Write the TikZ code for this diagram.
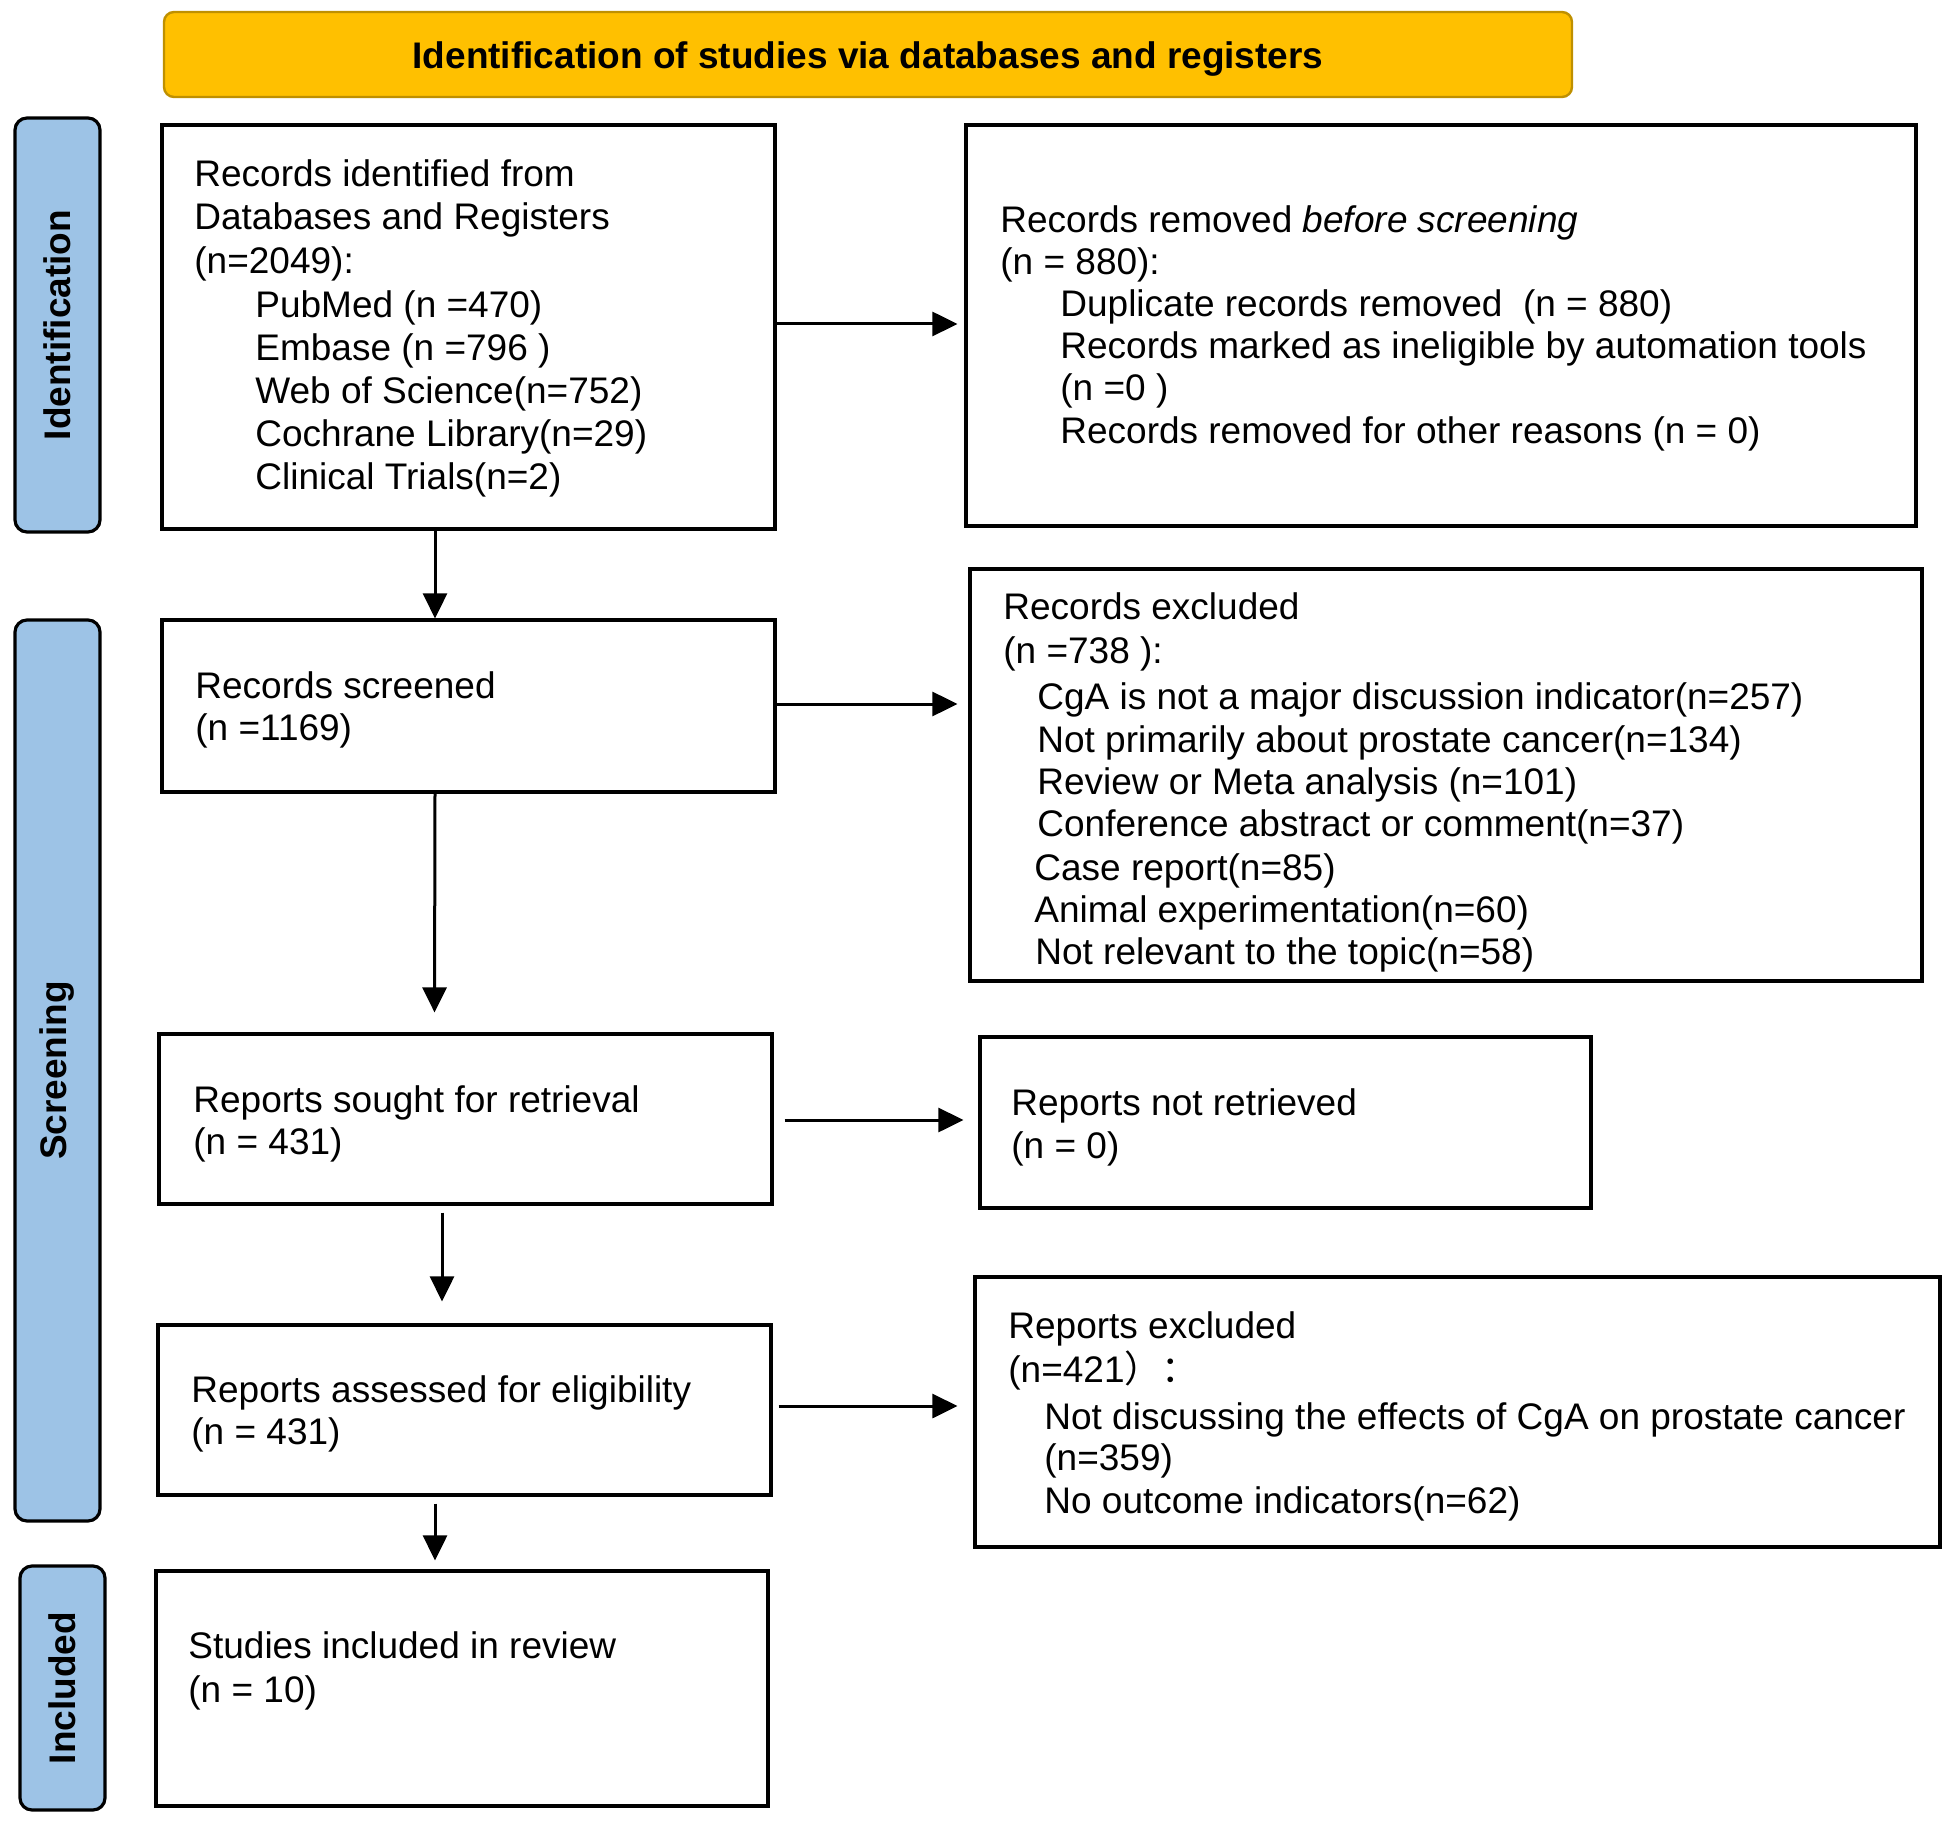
\documentclass[tikz,border=0pt]{standalone}
\usepackage{fontspec}
\setmainfont{Liberation Sans}
\newfontfamily\cjk{Noto Sans CJK SC}
\usetikzlibrary{fit,calc,arrows.meta}
\definecolor{gold}{HTML}{FFC000}
\definecolor{golddark}{HTML}{BF9000}
\definecolor{sideblue}{HTML}{9DC3E6}
\tikzset{
  box/.style={draw=black, line width=1.6pt, fill=white, inner sep=0pt},
  titlebox/.style={draw=golddark, line width=1.2pt, fill=gold, rounded corners=5pt, inner sep=0pt},
  sidebox/.style={draw=black, line width=1.6pt, fill=sideblue, rounded corners=6pt, inner sep=0pt},
  txt/.style={anchor=base west, inner sep=0pt, font=\fontsize{18.5}{21}\selectfont},
  boldtxt/.style={inner sep=0pt, font=\fontsize{18.5}{21}\selectfont\bfseries},
  arr/.style={line width=1.5pt, -{Triangle[length=12.5pt, width=12pt]}},
}
\begin{document}
\begin{tikzpicture}[x=0.5pt, y=-0.5pt]
\useasboundingbox (0,0) rectangle (1953,1823);
% title
\node[titlebox, fit={(164,12) (1572,97)}] (T) {};
\node[boldtxt] (Tt) at ($(T.center)+(0,5)$) {Identification of studies via databases and registers};
% side labels
\node[sidebox, fit={(15,118) (100,532)}] (S1) {};
\node[boldtxt, rotate=90] (S1t) at (S1.center) {Identification};
\node[sidebox, fit={(15,620) (100,1521)}] (S2) {};
\node[boldtxt, rotate=90] (S2t) at (S2.center) {Screening};
\node[sidebox, fit={(20,1566) (105,1810)}] (S3) {};
\node[boldtxt, rotate=90] (S3t) at (S3.center) {Included};
% boxes
\node[box, fit={(162,125) (775,529)}] (A) {};
\node[box, fit={(966,125) (1916,526)}] (B) {};
\node[box, fit={(162,620) (775,792)}] (C) {};
\node[box, fit={(970,569) (1922,981)}] (D) {};
\node[box, fit={(159,1034) (772,1204)}] (E) {};
\node[box, fit={(980,1037) (1591,1208)}] (F) {};
\node[box, fit={(158,1325) (771,1495)}] (G) {};
\node[box, fit={(975,1277) (1940,1547)}] (H) {};
\node[box, fit={(156,1571) (768,1806)}] (I) {};
% box A text
\node[txt] (a1) at (194,187) {Records identified from};
\node[txt] (a2) at (194,230) {Databases and Registers};
\node[txt] (a3) at (194,274) {(n=2049):};
\node[txt] (a4) at (255,318) {PubMed (n =470)};
\node[txt] (a5) at (255,361) {Embase (n =796 )};
\node[txt] (a6) at (255,404) {Web of Science(n=752)};
\node[txt] (a7) at (255,447) {Cochrane Library(n=29)};
\node[txt] (a8) at (255,490) {Clinical Trials(n=2)};
% box B text
\node[txt] (b1) at (1000,233) {Records removed \textit{before screening}};
\node[txt] (b2) at (1000,275) {(n = 880):};
\node[txt] (b3) at (1060,317) {Duplicate records removed\ \ (n = 880)};
\node[txt] (b4) at (1060,359) {Records marked as ineligible by automation tools};
\node[txt] (b5) at (1060,401) {(n =0 )};
\node[txt] (b6) at (1060,444) {Records removed for other reasons (n = 0)};
% box C text
\node[txt] (c1) at (195,698) {Records screened};
\node[txt] (c2) at (195,740) {(n =1169)};
% box D text
\node[txt] (d1) at (1003,620) {Records excluded};
\node[txt] (d2) at (1003,663) {(n =738 ):};
\node[txt] (d3) at (1037,709) {CgA is not a major discussion indicator(n=257)};
\node[txt] (d4) at (1037,752) {Not primarily about prostate cancer(n=134)};
\node[txt] (d5) at (1037,794) {Review or Meta analysis (n=101)};
\node[txt] (d6) at (1037,836) {Conference abstract or comment(n=37)};
\node[txt] (d7) at (1034,880) {Case report(n=85)};
\node[txt] (d8) at (1034,922) {Animal experimentation(n=60)};
\node[txt] (d9) at (1035,964) {Not relevant to the topic(n=58)};
% box E text
\node[txt] (e1) at (193,1112) {Reports sought for retrieval};
\node[txt] (e2) at (193,1154) {(n = 431)};
% box F text
\node[txt] (f1) at (1011,1115) {Reports not retrieved};
\node[txt] (f2) at (1011,1158) {(n = 0)};
% box G text
\node[txt] (g1) at (191,1402) {Reports assessed for eligibility};
\node[txt] (g2) at (191,1444) {(n = 431)};
% box H text
\node[txt] (h1) at (1008,1338) {Reports excluded};
\node[txt] (h2) at (1008,1382) {(n=421{\cjk ）：}};
\node[txt] (h3) at (1044,1429) {Not discussing the effects of CgA on prostate cancer};
\node[txt] (h4) at (1044,1470) {(n=359)};
\node[txt] (h5) at (1044,1513) {No outcome indicators(n=62)};
% box I text
\node[txt] (i1) at (188,1658) {Studies included in review};
\node[txt] (i2) at (188,1702) {(n = 10)};
% arrows
\draw[arr] ($(A.south)+(-33.5,0)$) -- ($(C.north)+(-33.5,0)$);
\draw[arr] ($(C.south)+(-33.5,0)$) -- ($(E.north)+(-31,-20)$);
\draw[arr] ($(E.south)+(-23.5,7)$) -- ($(G.north)+(-22.5,-22)$);
\draw[arr] ($(G.south)+(-29.5,7)$) -- ($(I.north)+(-27,-9)$);
\draw[arr] (A.east |- 0,324) -- ($(B.west |- 0,324)+(-7,0)$);
\draw[arr] (C.east |- 0,704) -- ($(D.west |- 0,704)+(-11,0)$);
\draw[arr] ($(E.east |- 0,1120)+(11,0)$) -- ($(F.west |- 0,1120)+(-15,0)$);
\draw[arr] ($(G.east |- 0,1406)+(6,0)$) -- ($(H.west |- 0,1406)+(-16,0)$);
\end{tikzpicture}
\end{document}
